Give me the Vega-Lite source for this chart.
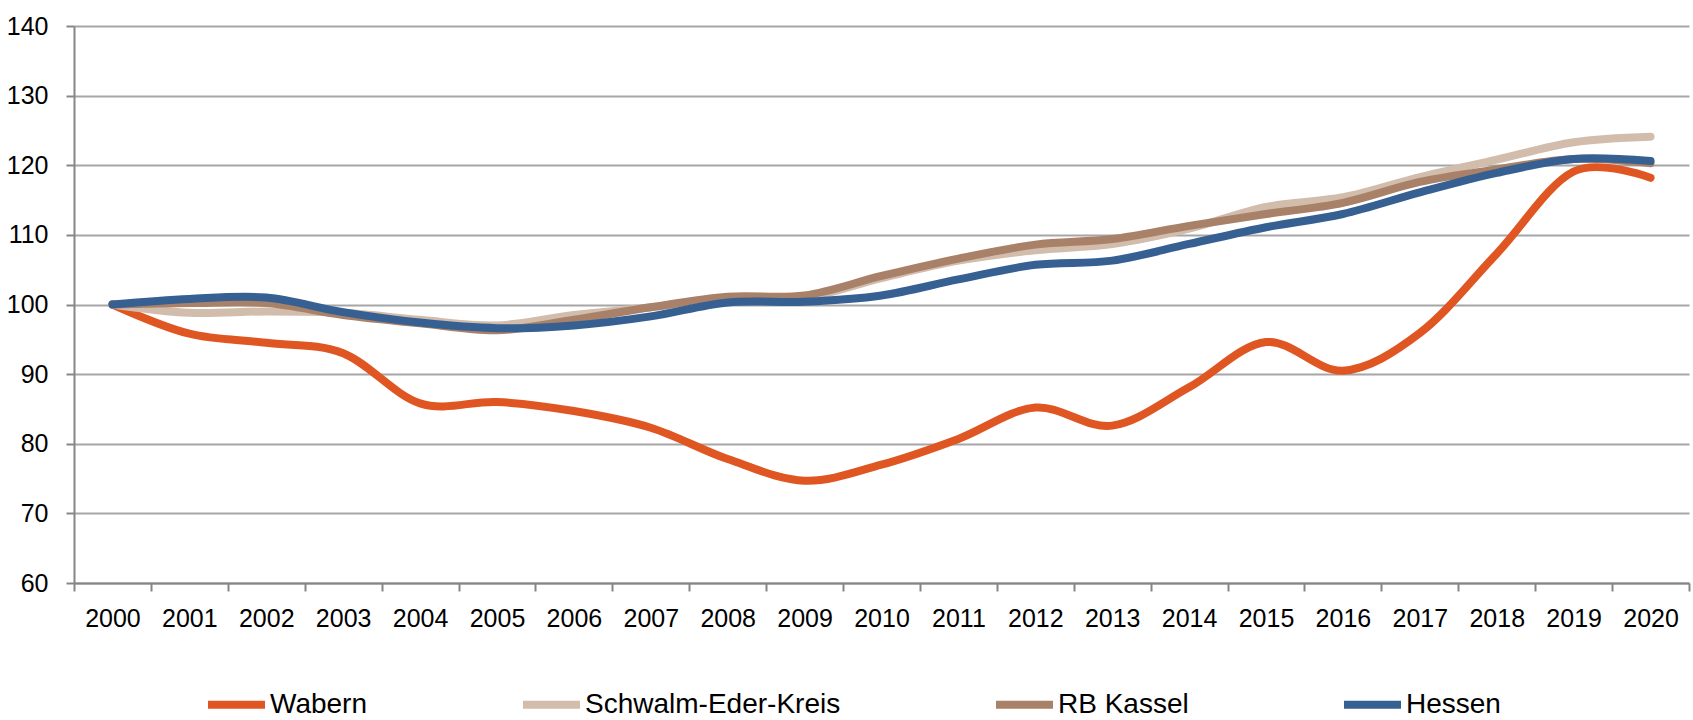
{
  "$schema": "https://vega.github.io/schema/vega-lite/v6.json",
  "width": 1615,
  "height": 557,
  "autosize": {"type": "none"},
  "padding": {"left": 74, "top": 26, "right": 4, "bottom": 137},
  "background": "white",
  "config": {
    "view": {"stroke": null},
    "font": "Liberation Sans, Arial, sans-serif"
  },
  "datasets": {
    "idx": [
      {"year": "2000", "region": "Wabern", "value": 100},
      {"year": "2001", "region": "Wabern", "value": 95.8},
      {"year": "2002", "region": "Wabern", "value": 94.5},
      {"year": "2003", "region": "Wabern", "value": 93.0},
      {"year": "2004", "region": "Wabern", "value": 85.8},
      {"year": "2005", "region": "Wabern", "value": 86.0},
      {"year": "2006", "region": "Wabern", "value": 84.7},
      {"year": "2007", "region": "Wabern", "value": 82.3},
      {"year": "2008", "region": "Wabern", "value": 77.8},
      {"year": "2009", "region": "Wabern", "value": 74.7},
      {"year": "2010", "region": "Wabern", "value": 77.0},
      {"year": "2011", "region": "Wabern", "value": 80.7},
      {"year": "2012", "region": "Wabern", "value": 85.2},
      {"year": "2013", "region": "Wabern", "value": 82.6},
      {"year": "2014", "region": "Wabern", "value": 88.1},
      {"year": "2015", "region": "Wabern", "value": 94.6},
      {"year": "2016", "region": "Wabern", "value": 90.5},
      {"year": "2017", "region": "Wabern", "value": 95.9},
      {"year": "2018", "region": "Wabern", "value": 107.3},
      {"year": "2019", "region": "Wabern", "value": 119.1},
      {"year": "2020", "region": "Wabern", "value": 118.2},
      {"year": "2000", "region": "Schwalm-Eder-Kreis", "value": 100},
      {"year": "2001", "region": "Schwalm-Eder-Kreis", "value": 98.8},
      {"year": "2002", "region": "Schwalm-Eder-Kreis", "value": 99.0},
      {"year": "2003", "region": "Schwalm-Eder-Kreis", "value": 98.8},
      {"year": "2004", "region": "Schwalm-Eder-Kreis", "value": 97.8},
      {"year": "2005", "region": "Schwalm-Eder-Kreis", "value": 97.0},
      {"year": "2006", "region": "Schwalm-Eder-Kreis", "value": 98.5},
      {"year": "2007", "region": "Schwalm-Eder-Kreis", "value": 99.6},
      {"year": "2008", "region": "Schwalm-Eder-Kreis", "value": 101.0},
      {"year": "2009", "region": "Schwalm-Eder-Kreis", "value": 101.0},
      {"year": "2010", "region": "Schwalm-Eder-Kreis", "value": 103.8},
      {"year": "2011", "region": "Schwalm-Eder-Kreis", "value": 106.3},
      {"year": "2012", "region": "Schwalm-Eder-Kreis", "value": 107.8},
      {"year": "2013", "region": "Schwalm-Eder-Kreis", "value": 108.7},
      {"year": "2014", "region": "Schwalm-Eder-Kreis", "value": 110.9},
      {"year": "2015", "region": "Schwalm-Eder-Kreis", "value": 114.0},
      {"year": "2016", "region": "Schwalm-Eder-Kreis", "value": 115.4},
      {"year": "2017", "region": "Schwalm-Eder-Kreis", "value": 118.3},
      {"year": "2018", "region": "Schwalm-Eder-Kreis", "value": 120.8},
      {"year": "2019", "region": "Schwalm-Eder-Kreis", "value": 123.3},
      {"year": "2020", "region": "Schwalm-Eder-Kreis", "value": 124.1},
      {"year": "2000", "region": "RB Kassel", "value": 100},
      {"year": "2001", "region": "RB Kassel", "value": 100.2},
      {"year": "2002", "region": "RB Kassel", "value": 100.2},
      {"year": "2003", "region": "RB Kassel", "value": 98.5},
      {"year": "2004", "region": "RB Kassel", "value": 97.3},
      {"year": "2005", "region": "RB Kassel", "value": 96.3},
      {"year": "2006", "region": "RB Kassel", "value": 97.8},
      {"year": "2007", "region": "RB Kassel", "value": 99.6},
      {"year": "2008", "region": "RB Kassel", "value": 101.1},
      {"year": "2009", "region": "RB Kassel", "value": 101.3},
      {"year": "2010", "region": "RB Kassel", "value": 104.1},
      {"year": "2011", "region": "RB Kassel", "value": 106.6},
      {"year": "2012", "region": "RB Kassel", "value": 108.6},
      {"year": "2013", "region": "RB Kassel", "value": 109.4},
      {"year": "2014", "region": "RB Kassel", "value": 111.3},
      {"year": "2015", "region": "RB Kassel", "value": 113.0},
      {"year": "2016", "region": "RB Kassel", "value": 114.6},
      {"year": "2017", "region": "RB Kassel", "value": 117.6},
      {"year": "2018", "region": "RB Kassel", "value": 119.4},
      {"year": "2019", "region": "RB Kassel", "value": 120.9},
      {"year": "2020", "region": "RB Kassel", "value": 120.3},
      {"year": "2000", "region": "Hessen", "value": 100},
      {"year": "2001", "region": "Hessen", "value": 100.8},
      {"year": "2002", "region": "Hessen", "value": 101.0},
      {"year": "2003", "region": "Hessen", "value": 98.9},
      {"year": "2004", "region": "Hessen", "value": 97.4},
      {"year": "2005", "region": "Hessen", "value": 96.6},
      {"year": "2006", "region": "Hessen", "value": 97.0},
      {"year": "2007", "region": "Hessen", "value": 98.3},
      {"year": "2008", "region": "Hessen", "value": 100.3},
      {"year": "2009", "region": "Hessen", "value": 100.4},
      {"year": "2010", "region": "Hessen", "value": 101.3},
      {"year": "2011", "region": "Hessen", "value": 103.6},
      {"year": "2012", "region": "Hessen", "value": 105.7},
      {"year": "2013", "region": "Hessen", "value": 106.3},
      {"year": "2014", "region": "Hessen", "value": 108.7},
      {"year": "2015", "region": "Hessen", "value": 111.1},
      {"year": "2016", "region": "Hessen", "value": 113.0},
      {"year": "2017", "region": "Hessen", "value": 116.1},
      {"year": "2018", "region": "Hessen", "value": 118.9},
      {"year": "2019", "region": "Hessen", "value": 120.9},
      {"year": "2020", "region": "Hessen", "value": 120.6}
    ]
  },
  "data": {"name": "idx"},
  "encoding": {
    "x": {
      "field": "year",
      "type": "ordinal",
      "bandPosition": 0.5,
      "scale": {"type": "band", "paddingInner": 0, "paddingOuter": 0},
      "axis": {
        "title": null,
        "labelAngle": 0,
        "tickBand": "extent",
        "domainColor": "#868686",
        "domainWidth": 2,
        "tickColor": "#868686",
        "tickWidth": 2,
        "tickSize": 8,
        "labelFontSize": 25,
        "labelColor": "#000000",
        "labelPadding": 15,
        "grid": false
      }
    },
    "y": {
      "field": "value",
      "type": "quantitative",
      "scale": {"domain": [60, 140], "nice": false, "zero": false},
      "axis": {
        "title": null,
        "values": [60, 70, 80, 90, 100, 110, 120, 130, 140],
        "grid": true,
        "gridColor": "#a6a6a6",
        "gridWidth": 2,
        "domainColor": "#868686",
        "domainWidth": 2,
        "tickColor": "#868686",
        "tickWidth": 2,
        "tickSize": 8,
        "labelFontSize": 25,
        "labelColor": "#000000",
        "labelPadding": 18
      }
    },
    "color": {
      "field": "region",
      "type": "nominal",
      "scale": {
        "domain": ["Wabern", "Schwalm-Eder-Kreis", "RB Kassel", "Hessen"],
        "range": ["#E05623", "#D2BCAC", "#A88168", "#366092"]
      },
      "legend": {
        "title": null,
        "orient": "none",
        "legendX": 130,
        "legendY": 646,
        "direction": "horizontal",
        "symbolType": "stroke",
        "symbolSize": 3249,
        "symbolStrokeWidth": 8,
        "labelFontSize": 28,
        "labelColor": "#000000",
        "labelOffset": 1,
        "columnPadding": 139,
        "labelLimit": 0
      }
    }
  },
  "layer": [
    {"transform": [{"filter": "datum.region === 'Wabern'"}], "mark": {"type": "line", "interpolate": "cardinal", "strokeWidth": 8, "strokeCap": "round", "strokeJoin": "round"}},
    {"transform": [{"filter": "datum.region === 'Schwalm-Eder-Kreis'"}], "mark": {"type": "line", "interpolate": "cardinal", "strokeWidth": 8, "strokeCap": "round", "strokeJoin": "round"}},
    {"transform": [{"filter": "datum.region === 'RB Kassel'"}], "mark": {"type": "line", "interpolate": "cardinal", "strokeWidth": 8, "strokeCap": "round", "strokeJoin": "round"}},
    {"transform": [{"filter": "datum.region === 'Hessen'"}], "mark": {"type": "line", "interpolate": "cardinal", "strokeWidth": 8, "strokeCap": "round", "strokeJoin": "round"}}
  ]
}
